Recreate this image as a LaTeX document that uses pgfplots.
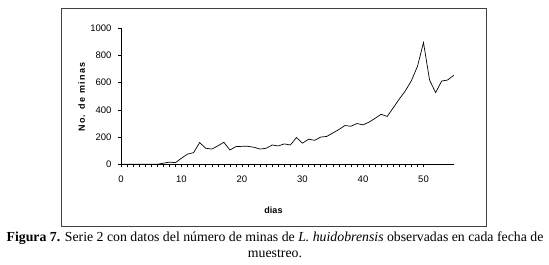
\documentclass[border=0pt]{standalone}
\usepackage{fontspec}
\setmainfont{Liberation Serif}
\newfontfamily\arial{Liberation Sans}
\usepackage{pgfplots}
\pgfplotsset{compat=1.18}
\begin{document}
\begin{tikzpicture}
\path[use as bounding box] (0,0) rectangle (549pt,-265pt);
\fill[white] (0,0) rectangle (549pt,-265pt);
\draw[black!75, line width=0.8pt] (61pt,-8.3pt) rectangle (486.7pt,-226pt);
\begin{axis}[
  at={(121pt,-164.3pt)}, anchor=south west,
  scale only axis, width=332.75pt, height=136pt,
  xmin=0, xmax=55, ymin=0, ymax=1000,
  axis x line*=bottom, axis y line*=left,
  axis line style={black, line width=0.6pt},
  xtick={0,10,20,30,40,50}, ytick={0,200,400,600,800,1000},
  minor x tick num=9,
  tick align=outside,
  major tick length=3pt, minor tick length=3pt,
  tick style={black, line width=0.5pt},
  /pgf/number format/assume math mode=true,
  /pgf/number format/1000 sep={},
  ticklabel style={font=\arial\fontsize{9.5}{11}\selectfont},
  xticklabel style={yshift=-5pt},
  yticklabel style={xshift=-3pt},
  clip=false,
]
\addplot[black, line width=0.7pt, mark=none] coordinates {
(0,0)(1,0)(2,0)(3,0)(4,0)(5,0)(6,0)(7,8)(8,16)(9,12)(10,45)
(11,75)(12,86)(13,160)(14,118)(15,112)(16,135)(17,162)(18,105)(19,130)(20,132)
(21,132)(22,125)(23,112)(24,118)(25,142)(26,135)(27,150)(28,142)(29,197)(30,155)
(31,185)(32,176)(33,200)(34,205)(35,230)(36,255)(37,285)(38,280)(39,300)(40,290)
(41,310)(42,338)(43,368)(44,352)(45,415)(46,480)(47,540)(48,615)(49,720)(50,895)
(51,620)(52,527)(53,612)(54,620)(55,655)
};
\end{axis}
\node[rotate=90, font=\arial\bfseries\fontsize{9}{10}\selectfont] at (81.7pt,-97pt) {\addfontfeature{LetterSpace=15}No. de minas};
\node[font=\arial\bfseries\fontsize{9}{10}\selectfont] at (273.5pt,-210pt) {dias};
\node[anchor=base, font=\fontsize{13.8}{15}\selectfont] at (275pt,-241pt)
  {\textbf{Figura 7.} Serie 2 con datos del número de minas de \textit{L. huidobrensis} observadas en cada fecha de};
\node[anchor=base, font=\fontsize{13.8}{15}\selectfont] at (275pt,-257pt) {muestreo.};
\end{tikzpicture}
\end{document}
